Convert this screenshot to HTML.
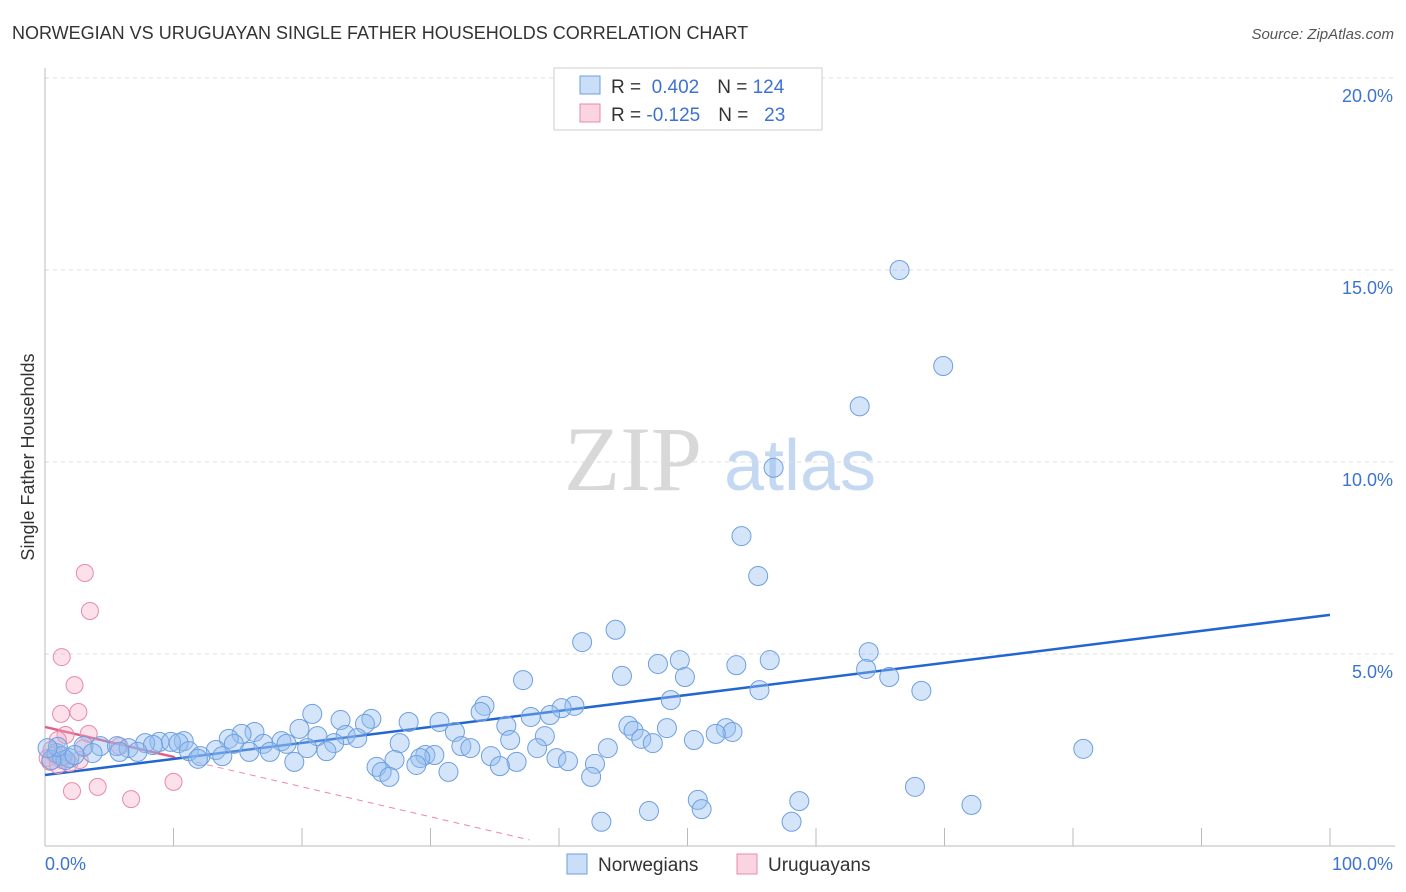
<!DOCTYPE html>
<html><head><meta charset="utf-8"><style>
body{margin:0;background:#fff;font-family:"Liberation Sans",sans-serif}
svg{display:block}
</style></head><body>
<svg id="chart" width="1406" height="892" xmlns="http://www.w3.org/2000/svg">
<text x="12" y="39" font-size="18" fill="#333">NORWEGIAN VS URUGUAYAN SINGLE FATHER HOUSEHOLDS CORRELATION CHART</text>
<text x="1394" y="39" font-size="15" fill="#555" font-style="italic" text-anchor="end">Source: ZipAtlas.com</text>
<g>
<text x="633" y="490" font-family="Liberation Serif,serif" font-size="92" fill="#d8d8d8" text-anchor="middle">ZIP</text>
<text x="800" y="490" font-size="72" fill="#c5d8f2" text-anchor="middle">atlas</text>
</g>
<g id="grid"></g>
<g id="axes"></g>
<g id="trends"></g>
<g id="pts"></g>
<text transform="translate(34,457) rotate(-90)" font-size="18" fill="#333" text-anchor="middle">Single Father Households</text>
<g>
<rect x="554" y="68" width="268" height="62" fill="#fff" stroke="#ccc"/>
<rect x="580" y="76" width="20" height="18" fill="rgba(147,190,240,0.5)" stroke="#6e9fe0"/>
<rect x="580" y="104" width="20" height="18" fill="rgba(245,170,195,0.5)" stroke="#e88aa8"/>
<text x="611" y="93" font-size="19" fill="#333">R = <tspan fill="#3d73d0">&#160;0.402</tspan><tspan dx="18">N = </tspan><tspan fill="#3d73d0">124</tspan></text>
<text x="611" y="121" font-size="19" fill="#333">R = <tspan fill="#3d73d0">-0.125</tspan><tspan dx="18">N = </tspan><tspan fill="#3d73d0">&#160;&#160;23</tspan></text>
</g>
<g>
<rect x="567" y="854" width="20" height="20" fill="rgba(147,190,240,0.5)" stroke="#6e9fe0"/>
<text x="598" y="871" font-size="19" fill="#333">Norwegians</text>
<rect x="737" y="854" width="20" height="20" fill="rgba(245,170,195,0.5)" stroke="#e88aa8"/>
<text x="768" y="871" font-size="19" fill="#333">Uruguayans</text>
</g>
</svg>
<script>
const yTicks=[5,10,15,20];
const yTickLabels=["5.0%","10.0%","15.0%","20.0%"];
const xTickLabels=["0.0%","100.0%"];
const blueX=[66.5,69.9,63.4,56.7,54.2,55.5,41.8,44.4,64.1,56.4,49.4,47.7,53.8,44.9,49.8,63.9,65.7,37.2,55.6,68.2,48.7,34.2,41.2,40.2,39.3,33.9,37.8,20.8,25.4,23.0,28.3,30.7,24.9,35.9,45.4,48.4,53.0,45.8,19.8,31.9,53.5,16.3,52.2,15.3,21.2,23.4,24.3,38.9,36.2,46.4,50.5,14.3,10.8,18.4,47.3,8.9,9.8,7.8,27.6,17.0,18.8,14.7,22.5,10.4,8.4,3.0,4.3,5.6,6.5,20.4,32.4,33.1,38.3,43.8,80.8,13.3,11.2,15.9,7.2,17.5,5.8,21.9,29.6,30.3,3.7,12.1,13.8,11.9,29.2,34.7,39.8,40.7,19.4,36.7,28.9,27.2,42.8,25.8,35.4,31.4,26.2,26.8,42.5,67.7,50.8,58.7,51.1,72.1,47.0,43.3,58.1,0.9,1.3,1.9,1.6,2.3,0.5,1.0,0.2];
const blueY=[15.0,12.5,11.45,9.85,8.07,7.03,5.31,5.63,5.05,4.84,4.84,4.74,4.71,4.43,4.40,4.61,4.40,4.32,4.06,4.04,3.80,3.65,3.65,3.59,3.41,3.49,3.36,3.44,3.31,3.28,3.23,3.23,3.18,3.13,3.13,3.07,3.07,3.0,3.05,2.97,2.97,2.97,2.92,2.92,2.86,2.89,2.81,2.86,2.76,2.79,2.76,2.79,2.73,2.73,2.68,2.71,2.71,2.68,2.68,2.66,2.66,2.66,2.68,2.68,2.63,2.60,2.60,2.60,2.55,2.55,2.60,2.55,2.55,2.55,2.53,2.50,2.47,2.45,2.45,2.45,2.45,2.47,2.37,2.37,2.42,2.34,2.34,2.27,2.29,2.34,2.29,2.21,2.19,2.19,2.11,2.24,2.14,2.06,2.08,1.93,1.93,1.80,1.80,1.54,1.20,1.17,0.96,1.07,0.91,0.63,0.63,2.42,2.34,2.29,2.24,2.37,2.24,2.58,2.55];
const pinkX=[3.1,3.5,1.3,2.3,1.25,2.6,3.4,1.6,1.0,5.8,0.5,0.8,0.2,1.3,1.9,2.7,1.0,2.1,4.1,6.7,10.0,0.4,3.0];
const pinkY=[7.11,6.12,4.92,4.19,3.44,3.49,2.92,2.89,2.76,2.60,2.50,2.37,2.29,2.24,2.16,2.24,2.11,1.43,1.54,1.22,1.67,2.19,2.55];
const blueTrend=[1.85,6.02];   // y at x=0, y at x=100
const pinkTrend=[3.1,0.16,10.1,37.7]; // y0, y at end, solid end x, dashed end x
const NS="http://www.w3.org/2000/svg";
const X0=45,X1=1330,Y0=846,PPY=38.4;
const sx=v=>X0+(X1-X0)*v/100, sy=v=>Y0-v*PPY;
function mk(t,a,p){const e=document.createElementNS(NS,t);for(const k in a)e.setAttribute(k,a[k]);p.appendChild(e);return e;}
const grid=document.getElementById('grid'),axes=document.getElementById('axes'),tr=document.getElementById('trends'),pts=document.getElementById('pts');
mk('line',{x1:45,x2:1395,y1:78,y2:78,stroke:'#ddd','stroke-dasharray':'4,4'},grid);
yTicks.forEach((t,i)=>{
 const l=mk('line',{x1:45,x2:1395,y1:sy(t),y2:sy(t),stroke:'#ddd','stroke-dasharray':'4,4'},grid);
 
 
 const tx=mk('text',{x:1393,y:sy(t)+24,'font-size':18,fill:'#3d73d0','text-anchor':'end'},axes);
 tx.textContent=yTickLabels[i];
 
 
});
mk('line',{x1:45,x2:45,y1:68,y2:846,stroke:'#bbb'},axes);
mk('line',{x1:45,x2:1395,y1:846,y2:846,stroke:'#bbb'},axes);
for(let i=1;i<=10;i++){const l=mk('line',{x1:sx(i*10),x2:sx(i*10),y1:828,y2:846,stroke:'#bbb'},axes);
 
 }
const xl0=mk('text',{x:45,y:870,'font-size':18,fill:'#3d73d0'},axes);xl0.textContent=xTickLabels[0];


const xl1=mk('text',{x:1393,y:870,'font-size':18,fill:'#3d73d0','text-anchor':'end'},axes);xl1.textContent=xTickLabels[1];


pinkX.forEach((x,i)=>{const c=mk('circle',{cx:sx(x),cy:sy(pinkY[i]),r:8.5,fill:'rgba(245,170,195,0.35)',stroke:'#e88aa8','stroke-width':1},pts);
 
 });
blueX.forEach((x,i)=>{const c=mk('circle',{cx:sx(x),cy:sy(blueY[i]),r:9.5,fill:'rgba(147,190,240,0.4)',stroke:'#6e9fe0','stroke-width':1},pts);
 
 });
const slope=(pinkTrend[1]-pinkTrend[0])/pinkTrend[3];
const pd=mk('line',{x1:sx(pinkTrend[2]),y1:sy(pinkTrend[0]+slope*pinkTrend[2]),x2:sx(pinkTrend[3]),y2:sy(pinkTrend[1]),stroke:'#e88aa8','stroke-width':1,'stroke-dasharray':'6,5'},tr);


const ps=mk('line',{x1:sx(0),y1:sy(pinkTrend[0]),x2:sx(pinkTrend[2]),y2:sy(pinkTrend[0]+slope*pinkTrend[2]),stroke:'#e0608a','stroke-width':2.5},tr);


const bl=mk('line',{x1:sx(0),y1:sy(blueTrend[0]),x2:sx(100),y2:sy(blueTrend[1]),stroke:'#2266d0','stroke-width':2.5},tr);


</script>
</body></html>
